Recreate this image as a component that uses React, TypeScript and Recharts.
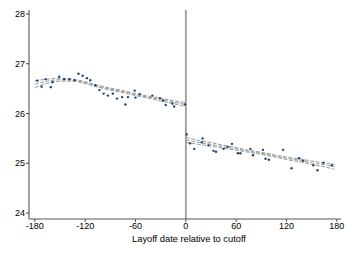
import { ComposedChart, Line, Scatter, XAxis, YAxis, ReferenceLine } from "recharts";

/* ── binned means, left of cutoff ── */
const leftDays = [-177, -172, -167, -161, -159, -151, -145, -139, -133, -128, -123, -118, -114, -108, -103, -98, -93, -87, -82, -76, -72, -69, -61, -60, -55, -40, -31, -27, -24, -16, -14, -1];
const leftMeans = [26.66, 26.54, 26.69, 26.53, 26.63, 26.74, 26.69, 26.69, 26.67, 26.8, 26.76, 26.71, 26.67, 26.57, 26.47, 26.4, 26.36, 26.4, 26.3, 26.33, 26.18, 26.33, 26.46, 26.32, 26.39, 26.36, 26.31, 26.26, 26.17, 26.2, 26.14, 26.18];

/* ── binned means, right of cutoff ── */
const rightDays = [1, 5, 10, 19, 20, 27, 33, 36, 45, 50, 55, 62, 65, 77, 80, 92, 95, 99, 116, 126, 135, 140, 152, 157, 164, 174];
const rightMeans = [25.58, 25.4, 25.29, 25.42, 25.5, 25.36, 25.25, 25.23, 25.29, 25.33, 25.39, 25.2, 25.2, 25.29, 25.16, 25.27, 25.09, 25.07, 25.27, 24.9, 25.1, 25.05, 24.96, 24.86, 25.01, 24.96];

/* ── fitted polynomial + CI ── */
const fitLeftDays = [-180, -165, -150, -135, -120, -105, -90, -75, -60, -45, -30, -15, 0];
const fitLeft = [26.59, 26.65, 26.68, 26.67, 26.62, 26.55, 26.49, 26.44, 26.38, 26.33, 26.28, 26.23, 26.18];
const fitLeftHi = [26.66, 26.69, 26.71, 26.69, 26.64, 26.57, 26.51, 26.46, 26.4, 26.35, 26.31, 26.26, 26.22];
const fitLeftLo = [26.52, 26.61, 26.65, 26.65, 26.6, 26.53, 26.47, 26.42, 26.36, 26.31, 26.25, 26.2, 26.14];

const fitRightDays = [0, 15, 30, 45, 60, 75, 90, 105, 120, 135, 150, 165, 177];
const fitRight = [25.47, 25.42, 25.38, 25.33, 25.29, 25.24, 25.2, 25.15, 25.1, 25.06, 25.01, 24.97, 24.93];
const fitRightHi = [25.52, 25.46, 25.415, 25.36, 25.315, 25.26, 25.22, 25.17, 25.125, 25.09, 25.045, 25.01, 24.98];
const fitRightLo = [25.42, 25.38, 25.345, 25.3, 25.265, 25.22, 25.18, 25.13, 25.075, 25.03, 24.975, 24.93, 24.88];

const xTicks = [-180, -120, -60, 0, 60, 120, 180];
const yTicks = [24, 25, 26, 27, 28];

const leftPts = leftDays.map((d, i) => ({ day: d, mean: leftMeans[i] }));
const rightPts = rightDays.map((d, i) => ({ day: d, mean: rightMeans[i] }));
const leftFit = fitLeftDays.map((d, i) => ({ day: d, fit: fitLeft[i], hi: fitLeftHi[i], lo: fitLeftLo[i] }));
const rightFit = fitRightDays.map((d, i) => ({ day: d, fit: fitRight[i], hi: fitRightHi[i], lo: fitRightLo[i] }));

const FONT = "Arial, 'Liberation Sans', sans-serif";
const tick = { fill: "#000", fontSize: 9, fontFamily: FONT };
const ciLine = { stroke: "#9a9a9a", strokeWidth: 1, strokeDasharray: "4 1.5", dot: false, isAnimationActive: false, type: "monotone" as const };

// eslint-disable-next-line @typescript-eslint/no-explicit-any
const Dot = (props: any) => <circle cx={props.cx} cy={props.cy} r={1.2} fill="#1a476f" />;

export default function App() {
    return (
        <div style={{ position: "absolute", left: 0, top: 0, background: "#fff" }}>
            <ComposedChart width={349} height={254} margin={{ top: 10, right: 8, left: 7, bottom: 0 }}>
                <XAxis
                    type="number"
                    dataKey="day"
                    domain={[-187, 185]}
                    ticks={xTicks}
                    allowDataOverflow
                    height={35}
                    tick={tick}
                    tickSize={3}
                    tickMargin={1}
                    stroke="#555"
                    label={{ value: "Layoff date relative to cutoff", position: "insideBottom", offset: 12, dx: 4, fill: "#000", fontSize: 9.3, fontFamily: FONT }}
                />
                <YAxis
                    type="number"
                    domain={[23.88, 28.08]}
                    ticks={yTicks}
                    allowDataOverflow
                    width={22}
                    tick={tick}
                    tickSize={3}
                    tickMargin={1}
                    stroke="#444"
                />
                <ReferenceLine x={0} stroke="#9c9c9c" strokeWidth={1.8} />
                <Line data={leftFit} dataKey="hi" {...ciLine} />
                <Line data={leftFit} dataKey="lo" {...ciLine} />
                <Line data={leftFit} dataKey="fit" {...ciLine} />
                <Line data={rightFit} dataKey="hi" {...ciLine} />
                <Line data={rightFit} dataKey="lo" {...ciLine} />
                <Line data={rightFit} dataKey="fit" {...ciLine} />
                <Scatter data={leftPts} dataKey="mean" shape={Dot} isAnimationActive={false} />
                <Scatter data={rightPts} dataKey="mean" shape={Dot} isAnimationActive={false} />
            </ComposedChart>
        </div>
    );
}
